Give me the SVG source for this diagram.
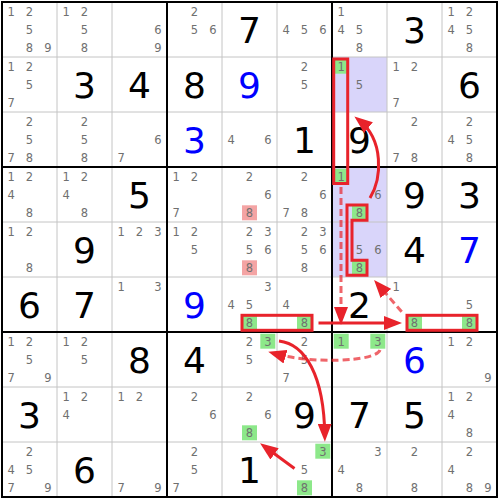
<svg xmlns="http://www.w3.org/2000/svg" width="500" height="500" viewBox="0 0 500 500">
<defs>
<style>
.t{font-family:"DejaVu Sans",Verdana,sans-serif;text-anchor:middle}
.s{font-size:11.5px;fill:#707070}
.v{font-size:36px;fill:#000}
.bl{fill:#0000ff}
.hg{fill:#8de88a}
.hp{fill:#f4a4a4}
.lav{fill:#d9d5fa}
.thin{stroke:#c4c4c4;stroke-width:1}
.thick{stroke:#000;stroke-width:2;fill:none}
.box{fill:none;stroke:#e8232b;stroke-width:3}
.arr{fill:none;stroke:#e8232b;stroke-width:3;marker-end:url(#ah)}
.dash{stroke-dasharray:7 4;stroke-opacity:0.7}
</style>
<marker id="ah" viewBox="0 0 18 14" refX="12" refY="7" markerWidth="18" markerHeight="14" markerUnits="userSpaceOnUse" orient="auto"><path d="M0,0 L18,7 L0,14 z" fill="#e8232b"/></marker>
</defs>
<rect width="500" height="500" fill="#fff"/>
<g id="cells">
<g id="r1c1" transform="translate(2,2)"><text class="t s" x="9.2" y="13.7">1</text><text class="t s" x="27.5" y="13.7">2</text><text class="t s" x="27.5" y="32">5</text><text class="t s" x="27.5" y="50.3">8</text><text class="t s" x="45.8" y="50.3">9</text></g>
<g id="r1c2" transform="translate(57,2)"><text class="t s" x="9.2" y="13.7">1</text><text class="t s" x="27.5" y="13.7">2</text><text class="t s" x="27.5" y="32">5</text><text class="t s" x="27.5" y="50.3">8</text></g>
<g id="r1c3" transform="translate(112,2)"><text class="t s" x="45.8" y="32">6</text><text class="t s" x="45.8" y="50.3">9</text></g>
<g id="r1c4" transform="translate(167,2)"><text class="t s" x="27.5" y="13.7">2</text><text class="t s" x="27.5" y="32">5</text><text class="t s" x="45.8" y="32">6</text></g>
<g id="r1c5" transform="translate(222,2)"><text class="t v" x="27.5" y="40.5">7</text></g>
<g id="r1c6" transform="translate(277,2)"><text class="t s" x="9.2" y="32">4</text><text class="t s" x="27.5" y="32">5</text><text class="t s" x="45.8" y="32">6</text></g>
<g id="r1c7" transform="translate(332,2)"><text class="t s" x="9.2" y="13.7">1</text><text class="t s" x="9.2" y="32">4</text><text class="t s" x="27.5" y="32">5</text><text class="t s" x="27.5" y="50.3">8</text></g>
<g id="r1c8" transform="translate(387,2)"><text class="t v" x="27.5" y="40.5">3</text></g>
<g id="r1c9" transform="translate(442,2)"><text class="t s" x="9.2" y="13.7">1</text><text class="t s" x="27.5" y="13.7">2</text><text class="t s" x="9.2" y="32">4</text><text class="t s" x="27.5" y="32">5</text><text class="t s" x="27.5" y="50.3">8</text></g>

<g id="r2c1" transform="translate(2,57)"><text class="t s" x="9.2" y="13.7">1</text><text class="t s" x="27.5" y="13.7">2</text><text class="t s" x="27.5" y="32">5</text><text class="t s" x="9.2" y="50.3">7</text></g>
<g id="r2c2" transform="translate(57,57)"><text class="t v" x="27.5" y="40.5">3</text></g>
<g id="r2c3" transform="translate(112,57)"><text class="t v" x="27.5" y="40.5">4</text></g>
<g id="r2c4" transform="translate(167,57)"><text class="t v" x="27.5" y="40.5">8</text></g>
<g id="r2c5" transform="translate(222,57)"><text class="t v bl" x="27.5" y="40.5">9</text></g>
<g id="r2c6" transform="translate(277,57)"><text class="t s" x="27.5" y="13.7">2</text><text class="t s" x="27.5" y="32">5</text></g>
<g id="r2c7" transform="translate(332,57)"><rect class="lav" width="55" height="55"/><rect class="hg" x="1.7" y="1.7" width="15" height="15"/><text class="t s" x="9.2" y="13.7">1</text><text class="t s" x="27.5" y="32">5</text></g>
<g id="r2c8" transform="translate(387,57)"><text class="t s" x="9.2" y="13.7">1</text><text class="t s" x="27.5" y="13.7">2</text><text class="t s" x="9.2" y="50.3">7</text></g>
<g id="r2c9" transform="translate(442,57)"><text class="t v" x="27.5" y="40.5">6</text></g>

<g id="r3c1" transform="translate(2,112)"><text class="t s" x="27.5" y="13.7">2</text><text class="t s" x="27.5" y="32">5</text><text class="t s" x="9.2" y="50.3">7</text><text class="t s" x="27.5" y="50.3">8</text></g>
<g id="r3c2" transform="translate(57,112)"><text class="t s" x="27.5" y="13.7">2</text><text class="t s" x="27.5" y="32">5</text><text class="t s" x="27.5" y="50.3">8</text></g>
<g id="r3c3" transform="translate(112,112)"><text class="t s" x="45.8" y="32">6</text><text class="t s" x="9.2" y="50.3">7</text></g>
<g id="r3c4" transform="translate(167,112)"><text class="t v bl" x="27.5" y="40.5">3</text></g>
<g id="r3c5" transform="translate(222,112)"><text class="t s" x="9.2" y="32">4</text><text class="t s" x="45.8" y="32">6</text></g>
<g id="r3c6" transform="translate(277,112)"><text class="t v" x="27.5" y="40.5">1</text></g>
<g id="r3c7" transform="translate(332,112)"><text class="t v" x="27.5" y="40.5">9</text></g>
<g id="r3c8" transform="translate(387,112)"><text class="t s" x="27.5" y="13.7">2</text><text class="t s" x="9.2" y="50.3">7</text><text class="t s" x="27.5" y="50.3">8</text></g>
<g id="r3c9" transform="translate(442,112)"><text class="t s" x="27.5" y="13.7">2</text><text class="t s" x="9.2" y="32">4</text><text class="t s" x="27.5" y="32">5</text><text class="t s" x="27.5" y="50.3">8</text></g>

<g id="r4c1" transform="translate(2,167)"><text class="t s" x="9.2" y="13.7">1</text><text class="t s" x="27.5" y="13.7">2</text><text class="t s" x="9.2" y="32">4</text><text class="t s" x="27.5" y="50.3">8</text></g>
<g id="r4c2" transform="translate(57,167)"><text class="t s" x="9.2" y="13.7">1</text><text class="t s" x="27.5" y="13.7">2</text><text class="t s" x="9.2" y="32">4</text><text class="t s" x="27.5" y="50.3">8</text></g>
<g id="r4c3" transform="translate(112,167)"><text class="t v" x="27.5" y="40.5">5</text></g>
<g id="r4c4" transform="translate(167,167)"><text class="t s" x="9.2" y="13.7">1</text><text class="t s" x="27.5" y="13.7">2</text><text class="t s" x="9.2" y="50.3">7</text></g>
<g id="r4c5" transform="translate(222,167)"><rect class="hp" x="20" y="38.3" width="15" height="15"/><text class="t s" x="27.5" y="13.7">2</text><text class="t s" x="45.8" y="32">6</text><text class="t s" x="27.5" y="50.3">8</text></g>
<g id="r4c6" transform="translate(277,167)"><text class="t s" x="27.5" y="13.7">2</text><text class="t s" x="45.8" y="32">6</text><text class="t s" x="9.2" y="50.3">7</text><text class="t s" x="27.5" y="50.3">8</text></g>
<g id="r4c7" transform="translate(332,167)"><rect class="lav" width="55" height="55"/><rect class="hg" x="1.7" y="1.7" width="15" height="15"/><rect class="hg" x="20" y="38.3" width="15" height="15"/><text class="t s" x="9.2" y="13.7">1</text><text class="t s" x="45.8" y="32">6</text><text class="t s" x="27.5" y="50.3">8</text></g>
<g id="r4c8" transform="translate(387,167)"><text class="t v" x="27.5" y="40.5">9</text></g>
<g id="r4c9" transform="translate(442,167)"><text class="t v" x="27.5" y="40.5">3</text></g>

<g id="r5c1" transform="translate(2,222)"><text class="t s" x="9.2" y="13.7">1</text><text class="t s" x="27.5" y="13.7">2</text><text class="t s" x="27.5" y="50.3">8</text></g>
<g id="r5c2" transform="translate(57,222)"><text class="t v" x="27.5" y="40.5">9</text></g>
<g id="r5c3" transform="translate(112,222)"><text class="t s" x="9.2" y="13.7">1</text><text class="t s" x="27.5" y="13.7">2</text><text class="t s" x="45.8" y="13.7">3</text></g>
<g id="r5c4" transform="translate(167,222)"><text class="t s" x="9.2" y="13.7">1</text><text class="t s" x="27.5" y="13.7">2</text><text class="t s" x="27.5" y="32">5</text></g>
<g id="r5c5" transform="translate(222,222)"><rect class="hp" x="20" y="38.3" width="15" height="15"/><text class="t s" x="27.5" y="13.7">2</text><text class="t s" x="45.8" y="13.7">3</text><text class="t s" x="27.5" y="32">5</text><text class="t s" x="45.8" y="32">6</text><text class="t s" x="27.5" y="50.3">8</text></g>
<g id="r5c6" transform="translate(277,222)"><text class="t s" x="27.5" y="13.7">2</text><text class="t s" x="45.8" y="13.7">3</text><text class="t s" x="27.5" y="32">5</text><text class="t s" x="45.8" y="32">6</text><text class="t s" x="27.5" y="50.3">8</text></g>
<g id="r5c7" transform="translate(332,222)"><rect class="lav" width="55" height="55"/><rect class="hg" x="20" y="38.3" width="15" height="15"/><text class="t s" x="27.5" y="32">5</text><text class="t s" x="45.8" y="32">6</text><text class="t s" x="27.5" y="50.3">8</text></g>
<g id="r5c8" transform="translate(387,222)"><text class="t v" x="27.5" y="40.5">4</text></g>
<g id="r5c9" transform="translate(442,222)"><text class="t v bl" x="27.5" y="40.5">7</text></g>

<g id="r6c1" transform="translate(2,277)"><text class="t v" x="27.5" y="40.5">6</text></g>
<g id="r6c2" transform="translate(57,277)"><text class="t v" x="27.5" y="40.5">7</text></g>
<g id="r6c3" transform="translate(112,277)"><text class="t s" x="9.2" y="13.7">1</text><text class="t s" x="45.8" y="13.7">3</text></g>
<g id="r6c4" transform="translate(167,277)"><text class="t v bl" x="27.5" y="40.5">9</text></g>
<g id="r6c5" transform="translate(222,277)"><rect class="hg" x="20" y="38.3" width="15" height="15"/><text class="t s" x="45.8" y="13.7">3</text><text class="t s" x="9.2" y="32">4</text><text class="t s" x="27.5" y="32">5</text><text class="t s" x="27.5" y="50.3">8</text></g>
<g id="r6c6" transform="translate(277,277)"><rect class="hg" x="20" y="38.3" width="15" height="15"/><text class="t s" x="9.2" y="32">4</text><text class="t s" x="27.5" y="50.3">8</text></g>
<g id="r6c7" transform="translate(332,277)"><text class="t v" x="27.5" y="40.5">2</text></g>
<g id="r6c8" transform="translate(387,277)"><rect class="hg" x="20" y="38.3" width="15" height="15"/><text class="t s" x="9.2" y="13.7">1</text><text class="t s" x="27.5" y="50.3">8</text></g>
<g id="r6c9" transform="translate(442,277)"><rect class="hg" x="20" y="38.3" width="15" height="15"/><text class="t s" x="27.5" y="32">5</text><text class="t s" x="27.5" y="50.3">8</text></g>

<g id="r7c1" transform="translate(2,332)"><text class="t s" x="9.2" y="13.7">1</text><text class="t s" x="27.5" y="13.7">2</text><text class="t s" x="27.5" y="32">5</text><text class="t s" x="9.2" y="50.3">7</text><text class="t s" x="45.8" y="50.3">9</text></g>
<g id="r7c2" transform="translate(57,332)"><text class="t s" x="9.2" y="13.7">1</text><text class="t s" x="27.5" y="13.7">2</text><text class="t s" x="27.5" y="32">5</text></g>
<g id="r7c3" transform="translate(112,332)"><text class="t v" x="27.5" y="40.5">8</text></g>
<g id="r7c4" transform="translate(167,332)"><text class="t v" x="27.5" y="40.5">4</text></g>
<g id="r7c5" transform="translate(222,332)"><rect class="hg" x="38.3" y="1.7" width="15" height="15"/><text class="t s" x="27.5" y="13.7">2</text><text class="t s" x="45.8" y="13.7">3</text><text class="t s" x="27.5" y="32">5</text></g>
<g id="r7c6" transform="translate(277,332)"><text class="t s" x="27.5" y="13.7">2</text><text class="t s" x="27.5" y="32">5</text><text class="t s" x="9.2" y="50.3">7</text></g>
<g id="r7c7" transform="translate(332,332)"><rect class="hg" x="1.7" y="1.7" width="15" height="15"/><rect class="hg" x="38.3" y="1.7" width="15" height="15"/><text class="t s" x="9.2" y="13.7">1</text><text class="t s" x="45.8" y="13.7">3</text></g>
<g id="r7c8" transform="translate(387,332)"><text class="t v bl" x="27.5" y="40.5">6</text></g>
<g id="r7c9" transform="translate(442,332)"><text class="t s" x="9.2" y="13.7">1</text><text class="t s" x="27.5" y="13.7">2</text><text class="t s" x="45.8" y="50.3">9</text></g>

<g id="r8c1" transform="translate(2,387)"><text class="t v" x="27.5" y="40.5">3</text></g>
<g id="r8c2" transform="translate(57,387)"><text class="t s" x="9.2" y="13.7">1</text><text class="t s" x="27.5" y="13.7">2</text><text class="t s" x="9.2" y="32">4</text></g>
<g id="r8c3" transform="translate(112,387)"><text class="t s" x="9.2" y="13.7">1</text><text class="t s" x="27.5" y="13.7">2</text></g>
<g id="r8c4" transform="translate(167,387)"><text class="t s" x="27.5" y="13.7">2</text><text class="t s" x="45.8" y="32">6</text></g>
<g id="r8c5" transform="translate(222,387)"><rect class="hg" x="20" y="38.3" width="15" height="15"/><text class="t s" x="27.5" y="13.7">2</text><text class="t s" x="45.8" y="32">6</text><text class="t s" x="27.5" y="50.3">8</text></g>
<g id="r8c6" transform="translate(277,387)"><text class="t v" x="27.5" y="40.5">9</text></g>
<g id="r8c7" transform="translate(332,387)"><text class="t v" x="27.5" y="40.5">7</text></g>
<g id="r8c8" transform="translate(387,387)"><text class="t v" x="27.5" y="40.5">5</text></g>
<g id="r8c9" transform="translate(442,387)"><text class="t s" x="9.2" y="13.7">1</text><text class="t s" x="27.5" y="13.7">2</text><text class="t s" x="9.2" y="32">4</text><text class="t s" x="27.5" y="50.3">8</text></g>

<g id="r9c1" transform="translate(2,442)"><text class="t s" x="27.5" y="13.7">2</text><text class="t s" x="9.2" y="32">4</text><text class="t s" x="27.5" y="32">5</text><text class="t s" x="9.2" y="50.3">7</text><text class="t s" x="45.8" y="50.3">9</text></g>
<g id="r9c2" transform="translate(57,442)"><text class="t v" x="27.5" y="40.5">6</text></g>
<g id="r9c3" transform="translate(112,442)"><text class="t s" x="9.2" y="50.3">7</text><text class="t s" x="45.8" y="50.3">9</text></g>
<g id="r9c4" transform="translate(167,442)"><text class="t s" x="27.5" y="13.7">2</text><text class="t s" x="27.5" y="32">5</text><text class="t s" x="9.2" y="50.3">7</text></g>
<g id="r9c5" transform="translate(222,442)"><text class="t v" x="27.5" y="40.5">1</text></g>
<g id="r9c6" transform="translate(277,442)"><rect class="hg" x="38.3" y="1.7" width="15" height="15"/><rect class="hg" x="20" y="38.3" width="15" height="15"/><text class="t s" x="45.8" y="13.7">3</text><text class="t s" x="27.5" y="32">5</text><text class="t s" x="27.5" y="50.3">8</text></g>
<g id="r9c7" transform="translate(332,442)"><text class="t s" x="45.8" y="13.7">3</text><text class="t s" x="9.2" y="32">4</text><text class="t s" x="27.5" y="50.3">8</text></g>
<g id="r9c8" transform="translate(387,442)"><text class="t s" x="27.5" y="13.7">2</text><text class="t s" x="27.5" y="50.3">8</text></g>
<g id="r9c9" transform="translate(442,442)"><text class="t s" x="27.5" y="13.7">2</text><text class="t s" x="9.2" y="32">4</text><text class="t s" x="27.5" y="50.3">8</text><text class="t s" x="45.8" y="50.3">9</text></g>
</g>
<g id="grid">
<path class="thin" d="M57,2V497M112,2V497M222,2V497M277,2V497M387,2V497M442,2V497M2,57H497M2,112H497M2,222H497M2,277H497M2,387H497M2,442H497"/>
<path class="thick" d="M167,2V497M332,2V497M2,167H497M2,332H497"/>
<rect class="thick" x="2" y="2" width="495" height="495"/>
</g>
<g id="sets">
<rect class="box" x="333.7" y="59" width="14" height="124.5"/>
<path class="box" d="M347,205H367V220.3H352V260.3H367V275.3H347Z"/>
<rect class="box" x="242" y="315.3" width="70" height="15"/>
<rect class="box" x="407" y="315.3" width="70" height="15"/>
</g>
<g id="connectors">
<path class="arr" d="M370,198C382,178 384,140 359.1,120.2"/>
<path class="arr dash" d="M341,187V319"/>
<path class="arr" d="M318.5,323H396"/>
<path class="arr dash" d="M401.7,311.7L378,284.5"/>
<path class="arr dash" d="M380,350C376,362 310,364 274,353.4"/>
<path class="arr" d="M279,341C305,344 324,375 324.8,435.7"/>
<path class="arr" d="M294.5,468.5L264.9,446.8"/>
</g>
</svg>
